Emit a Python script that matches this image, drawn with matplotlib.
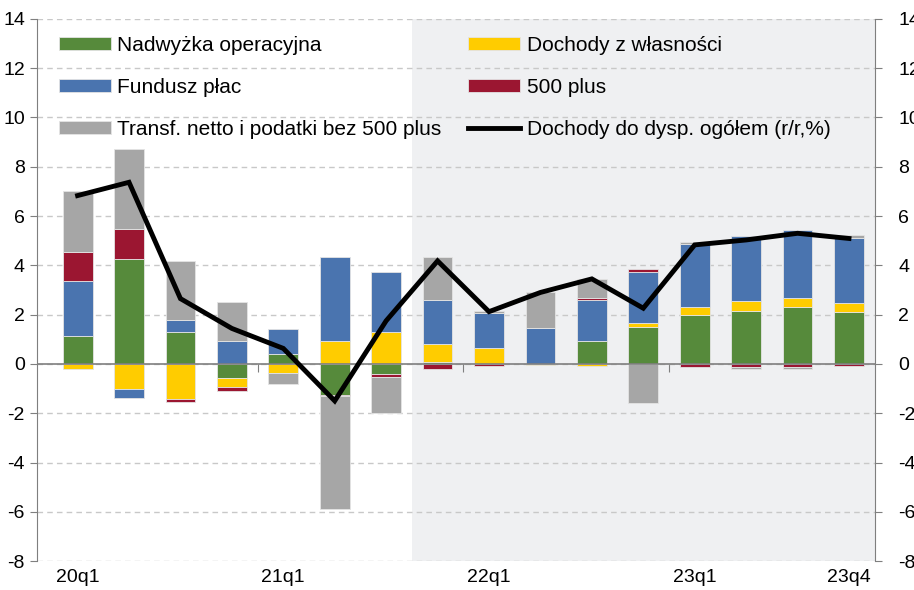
import numpy as np
import matplotlib.pyplot as plt

plt.rcParams['font.family'] = ['Liberation Sans', 'DejaVu Sans']
plt.rcParams['axes.unicode_minus'] = False

quarters = ['20q1', '20q2', '20q3', '20q4', '21q1', '21q2', '21q3', '21q4',
            '22q1', '22q2', '22q3', '22q4', '23q1', '23q2', '23q3', '23q4']
nadwyzka = [1.15, 4.27, 1.31, -0.58, 0.42, -1.27, -0.41, 0.08,
            0.0, 0.0, 0.92, 1.51, 1.98, 2.15, 2.30, 2.11]
dochody_wl = [-0.20, -1.03, -1.42, -0.35, -0.35, 0.92, 1.31, 0.73,
              0.65, -0.03, -0.08, 0.15, 0.33, 0.41, 0.39, 0.37]
fundusz = [2.20, -0.34, 0.48, 0.93, 1.01, 3.43, 2.40, 1.79,
           1.43, 1.47, 1.69, 2.09, 2.57, 2.63, 2.75, 2.63]
plus500 = [1.20, 1.20, -0.14, -0.18, -0.03, -0.02, -0.12, -0.19,
           -0.07, 0.0, 0.05, 0.09, -0.13, -0.13, -0.13, -0.10]
transf = [2.47, 3.26, 2.39, 1.60, -0.42, -4.59, -1.47, 1.73,
          0.08, 1.44, 0.80, -1.57, 0.06, -0.07, -0.07, 0.14]
ogolem = [6.83, 7.37, 2.65, 1.44, 0.63, -1.50, 1.75, 4.18,
          2.12, 2.90, 3.45, 2.26, 4.83, 5.03, 5.30, 5.09]

series = [
    ('Nadwyżka operacyjna', nadwyzka, '#568a3b'),
    ('Dochody z własności', dochody_wl, '#ffcc00'),
    ('Fundusz płac', fundusz, '#4a74af'),
    ('500 plus', plus500, '#9b1631'),
    ('Transf. netto i podatki bez 500 plus', transf, '#a6a6a6'),
]

fig = plt.figure(figsize=(9.14, 5.9), dpi=100)
ax = fig.add_axes([0.041, 0.049, 0.916, 0.919])

x = np.arange(len(quarters))
pos = np.zeros(len(x))
neg = np.zeros(len(x))
handles = []
for label, vals, col in series:
    v = np.array(vals)
    bottom = np.where(v >= 0, pos, neg)
    b = ax.bar(x, v, 0.58, bottom=bottom, color=col, edgecolor='#e4e4e4',
               linewidth=0.6, zorder=2, label=label)
    handles.append(b)
    pos = pos + np.where(v >= 0, v, 0)
    neg = neg + np.where(v < 0, v, 0)

line, = ax.plot(x, ogolem, color='black', lw=3.5, zorder=4,
                solid_joinstyle='miter', label='Dochody do dysp. ogółem (r/r,%)')

ax.axvspan(6.5, 15.5, color='#eff0f2', zorder=0, lw=0)
ax.axhline(0, color='#7f7f7f', lw=1.2, zorder=3)

ax.set_xlim(-0.78, 15.5)
ax.set_ylim(-8, 14)
ax.set_yticks(np.arange(-8, 15, 2))
ax.yaxis.grid(True, ls=(0, (4, 3)), color='#c8c8c8', lw=1)
ax.set_axisbelow(True)
ax.set_xticks([0, 4, 8, 12, 15])
ax.set_xticklabels(['20q1', '21q1', '22q1', '23q1', '23q4'])
ax.tick_params(axis='x', length=0, labelsize=14, pad=6)
ax.tick_params(axis='y', labelsize=14, color='#7f7f7f', length=5, pad=4)
for s in ['top', 'bottom', 'right']:
    ax.spines[s].set_visible(False)
ax.spines['left'].set_color('#7f7f7f')

# tick marks between years on the zero line
sec = ax.secondary_xaxis(8 / 22)
sec.set_xticks([3.5, 7.5, 11.5])
sec.set_xticklabels([])
sec.tick_params(axis='x', length=6, color='#7f7f7f', direction='out')
sec.spines['bottom'].set_visible(False)

ax2 = ax.twinx()
ax2.set_ylim(-8, 14)
ax2.set_yticks(np.arange(-8, 15, 2))
ax2.tick_params(axis='y', labelsize=14, color='#7f7f7f', length=5, pad=12)
for s in ['top', 'bottom', 'left']:
    ax2.spines[s].set_visible(False)
ax2.spines['right'].set_color('#7f7f7f')

# legend filled row by row as in the source
order = [0, 2, 4, 1, 3]
leg_h = [handles[i] for i in order] + [line]
leg_l = [h.get_label() for h in leg_h]
ax.legend(leg_h, leg_l, ncol=2, loc='upper left', bbox_to_anchor=(0.003, 1.003),
          frameon=False, fontsize=15, handlelength=2.5, handleheight=0.6,
          labelspacing=1.1, columnspacing=1.3, handletextpad=0.3)

fig.savefig('out.png', dpi=100)
